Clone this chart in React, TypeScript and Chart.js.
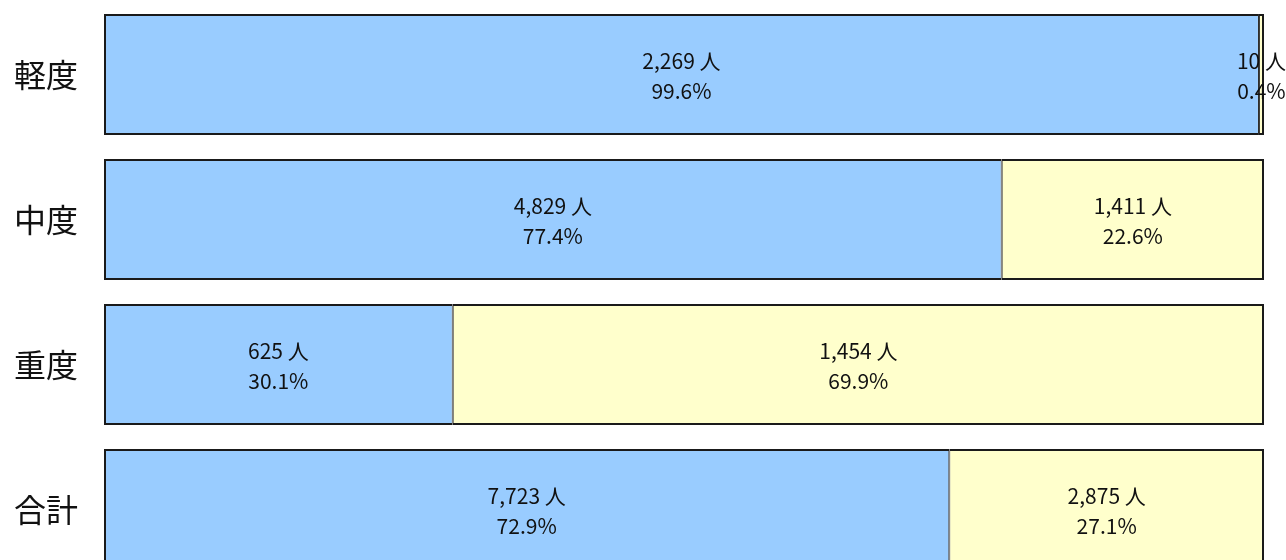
import React, { useEffect, useRef } from "react";
import { Chart, registerables } from "chart.js";

Chart.register(...registerables);

const categories = ["軽度", "中度", "重度", "合計"];
const blueCounts = [2269, 4829, 625, 7723];
const yellowCounts = [10, 1411, 1454, 2875];

const totals = blueCounts.map((b, i) => b + yellowCounts[i]);
const bluePct = blueCounts.map((b, i) => (b / totals[i]) * 100);
const yellowPct = yellowCounts.map((y, i) => (y / totals[i]) * 100);

const fmt = (n: number) => n.toLocaleString("en-US");

const labelPlugin = {
  id: "segLabels",
  afterDatasetsDraw(chart: any) {
    const ctx = chart.ctx;
    ctx.save();
    ctx.font = '21px "Noto Sans CJK JP", sans-serif';
    ctx.fillStyle = "#111";
    ctx.textAlign = "center";
    ctx.textBaseline = "middle";
    chart.data.datasets.forEach((ds: any, di: number) => {
      const meta = chart.getDatasetMeta(di);
      const counts = di === 0 ? blueCounts : yellowCounts;
      meta.data.forEach((el: any, i: number) => {
        const { x, base, y } = el.getProps(["x", "base", "y"], true);
        const cx = (x + base) / 2;
        ctx.fillText(fmt(counts[i]) + " 人", cx, y - 13);
        ctx.fillText(ds.data[i].toFixed(1) + "%", cx, y + 17);
      });
    });
    ctx.restore();
  },
};

export default function App() {
  const ref = useRef<HTMLCanvasElement>(null);
  useEffect(() => {
    if (!ref.current) return;
    const chart = new Chart(ref.current, {
      type: "bar",
      data: {
        labels: categories,
        datasets: [
          {
            data: bluePct,
            backgroundColor: "#99CCFF",
            borderColor: "#1a1a1a",
            borderWidth: { top: 2, bottom: 2, left: 2, right: 1 } as any,
            borderSkipped: false,
            barPercentage: 0.834,
            categoryPercentage: 1,
          },
          {
            data: yellowPct,
            backgroundColor: "#FFFFCC",
            borderColor: "#1a1a1a",
            borderWidth: { top: 2, bottom: 2, left: 1, right: 2 } as any,
            borderSkipped: false,
            barPercentage: 0.834,
            categoryPercentage: 1,
          },
        ],
      },
      options: {
        indexAxis: "y",
        responsive: true,
        maintainAspectRatio: false,
        animation: false,
        devicePixelRatio: 1,
        layout: { padding: { top: 2, bottom: 18, right: 22, left: 0 } },
        plugins: { legend: { display: false }, tooltip: { enabled: false } },
        scales: {
          x: { stacked: true, min: 0, max: 100, display: false },
          y: {
            stacked: true,
            grid: { display: false },
            border: { display: false },
            ticks: {
              color: "#111",
              padding: 18,
              font: { size: 32, family: '"Noto Sans CJK JP", sans-serif' },
            },
            afterFit: (s: any) => {
              s.width = 104;
              s.paddingTop = 0;
              s.paddingBottom = 0;
            },
          },
        },
      },
      plugins: [labelPlugin],
    });
    return () => chart.destroy();
  }, []);
  return (
    <div style={{ position: "absolute", left: 0, top: 0, width: 1286, height: 560, overflow: "hidden", background: "#fff" }}>
      <div style={{ position: "relative", width: 1286, height: 600 }}>
        <canvas ref={ref} />
      </div>
    </div>
  );
}
